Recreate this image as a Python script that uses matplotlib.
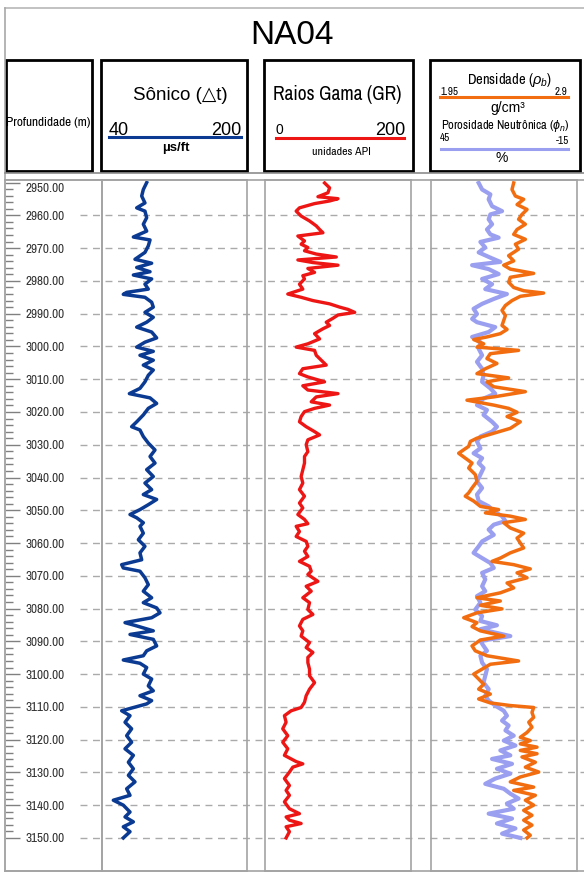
import numpy as np
import matplotlib.pyplot as plt
from matplotlib.patches import Rectangle
from matplotlib.lines import Line2D
from matplotlib.ticker import FixedLocator, FormatStrFormatter

plt.rcParams['font.family'] = ['Liberation Sans', 'DejaVu Sans']
plt.rcParams['mathtext.fontset'] = 'custom'
plt.rcParams['mathtext.rm'] = 'Archivo Narrow'
plt.rcParams['mathtext.it'] = 'Liberation Sans:italic'
narrow = ['Archivo Narrow', 'Liberation Sans', 'DejaVu Sans']

well_name = "NA04"

# Sonico (us/ft)
sonic_depth = [2950.0, 2952.1, 2954.1, 2956.2, 2957.7, 2958.7, 2960.7, 2962.7, 2964.8, 2966.6, 2967.5,
               2969.3, 2971.3, 2973.4, 2974.6, 2975.9, 2977.2, 2978.2, 2979.4, 2981.0, 2982.5, 2983.5,
               2984.1, 2985.0, 2986.5, 2988.0, 2989.6, 2991.1, 2992.6, 2994.1, 2995.6, 2997.4, 2998.7,
               3000.2, 3001.5, 3002.7, 3004.2, 3005.7, 3007.2, 3008.8, 3010.8, 3012.8, 3014.4, 3015.7,
               3017.4, 3018.9, 3020.9, 3023.0, 3024.5, 3025.5, 3027.5, 3029.5, 3031.6, 3033.6, 3035.6,
               3037.6, 3039.7, 3041.7, 3043.7, 3045.2, 3046.7, 3048.3, 3049.8, 3051.3, 3052.3, 3053.8,
               3054.9, 3057.0, 3059.0, 3061.0, 3063.0, 3065.1, 3066.6, 3067.6, 3068.6, 3070.6, 3072.7,
               3074.7, 3076.7, 3078.2, 3079.8, 3081.3, 3082.8, 3084.3, 3085.3, 3086.8, 3087.9, 3089.4,
               3091.4, 3092.9, 3094.4, 3095.7, 3096.7, 3098.0, 3100.0, 3101.5, 3103.6, 3105.1, 3106.6,
               3108.1, 3109.1, 3110.5, 3111.2, 3112.7, 3114.7, 3116.7, 3118.8, 3120.8, 3122.8, 3124.8,
               3126.9, 3128.9, 3130.9, 3132.9, 3135.0, 3137.0, 3138.5, 3140.0, 3142.1, 3143.6, 3145.1,
               3146.6, 3148.1, 3150.0]
sonic_dt = [89.3, 85.6, 83.8, 87.4, 78.3, 87.4, 89.3, 85.6, 89.3, 74.6, 93.0,
            91.1, 87.4, 76.4, 94.8, 78.3, 93.0, 74.6, 94.8, 87.4, 91.1, 67.2,
            63.5, 87.4, 94.8, 96.6, 87.4, 96.6, 89.3, 78.3, 94.8, 100.3, 87.4,
            78.3, 96.6, 81.9, 96.6, 85.6, 96.6, 91.1, 87.4, 81.9, 70.2, 93.0,
            100.3, 91.1, 85.6, 78.3, 72.7, 81.9, 85.6, 91.1, 98.5, 93.0, 98.5,
            89.3, 96.6, 87.4, 94.8, 85.6, 100.3, 91.1, 81.9, 70.9, 78.3, 85.6,
            81.9, 85.6, 80.1, 87.4, 81.9, 83.8, 61.7, 63.5, 81.9, 87.4, 91.1,
            85.6, 94.8, 85.6, 100.3, 104.0, 94.8, 65.4, 78.3, 96.6, 70.9, 96.6,
            100.3, 89.3, 85.6, 63.5, 81.9, 89.3, 85.6, 94.8, 91.1, 96.6, 81.9,
            94.8, 89.3, 70.9, 61.7, 70.9, 65.4, 72.7, 67.2, 72.7, 65.4, 74.6,
            69.1, 74.6, 69.1, 76.4, 67.2, 70.9, 52.5, 63.5, 70.9, 65.4, 74.6,
            63.5, 70.9, 63.5]

# Raios gama (API)
gr_depth = [2950.1, 2951.6, 2953.1, 2954.3, 2954.9, 2955.6, 2956.4, 2957.7, 2958.7, 2960.2, 2961.7,
            2963.2, 2964.3, 2965.3, 2966.3, 2967.8, 2968.8, 2969.8, 2970.8, 2971.8, 2972.7, 2973.6,
            2974.4, 2975.2, 2976.2, 2977.4, 2978.4, 2979.4, 2981.0, 2982.5, 2984.0, 2985.0, 2986.0,
            2987.0, 2988.0, 2988.7, 2989.6, 2990.4, 2991.4, 2992.6, 2993.6, 2994.6, 2996.1, 2997.7,
            2999.2, 3000.2, 3001.2, 3002.7, 3004.2, 3005.7, 3006.8, 3008.3, 3009.3, 3010.8, 3012.0,
            3013.3, 3014.4, 3015.4, 3016.9, 3017.9, 3018.9, 3019.9, 3021.4, 3023.0, 3024.5, 3026.0,
            3027.0, 3028.5, 3030.0, 3032.1, 3033.6, 3035.6, 3037.6, 3039.7, 3041.7, 3043.7, 3045.7,
            3047.8, 3049.3, 3051.3, 3052.8, 3054.1,
            3054.9, 3056.5, 3058.0, 3059.5, 3061.0, 3062.5, 3064.1, 3065.6, 3067.1, 3068.6, 3069.6,
            3071.7, 3073.2, 3074.7, 3076.7, 3078.2, 3080.3, 3081.8, 3083.3, 3085.3, 3086.8, 3088.4,
            3090.4, 3091.9, 3093.4, 3094.9, 3096.5, 3098.5, 3100.5, 3102.6, 3104.6, 3106.6, 3108.6,
            3110.2, 3111.2, 3112.7, 3114.7, 3116.7, 3118.8, 3120.8, 3122.8, 3124.8, 3126.7, 3127.4,
            3128.4, 3129.9, 3131.9, 3134.0, 3135.5, 3137.0, 3139.0, 3141.1, 3142.6, 3143.6, 3144.6,
            3145.6, 3146.6, 3148.1, 3150.0]
gr_api = [81.6, 88.5, 86.2, 72.5, 100.0, 88.5, 67.9, 47.2, 42.7, 49.5, 61.0,
          70.2, 74.8, 79.4, 45.0, 54.1, 49.5, 58.7, 54.1, 70.2, 97.7, 45.0,
          65.6, 100.0, 58.7, 67.9, 51.8, 54.1, 47.2, 51.8, 31.2, 49.5, 65.6,
          88.5, 102.3, 113.8, 122.9, 100.0, 93.1, 83.9, 88.5, 79.4, 67.9, 74.8,
          58.7, 42.7, 67.9, 70.2, 77.1, 83.9, 51.8, 47.2, 58.7, 81.6, 51.8,
          58.7, 100.0, 70.2, 63.3, 88.5, 67.9, 54.1, 49.5, 47.2, 56.4, 67.9,
          74.8, 58.7, 56.4, 58.7, 54.1, 54.1, 51.8, 49.5, 51.8, 47.2, 54.1,
          47.2, 51.8, 45.0, 54.1, 58.7,
          42.7, 47.2, 42.7, 56.4, 58.7, 54.1, 58.7, 47.2, 61.0, 63.3, 58.7,
          72.5, 56.4, 63.3, 51.8, 61.0, 58.7, 65.6, 51.8, 47.2, 51.8, 49.5,
          61.0, 56.4, 65.6, 58.7, 58.7, 61.0, 61.0, 67.9, 61.0, 56.4, 54.1,
          49.5, 35.8, 26.6, 28.9, 24.3, 31.2, 24.3, 31.2, 26.6, 42.7, 51.8,
          38.1, 33.5, 26.6, 33.5, 28.9, 33.5, 26.6, 33.5, 47.2, 28.9, 33.5,
          49.5, 28.9, 33.5, 28.9]

# Densidade (g/cm3)
rhob_depth = [2950.1, 2952.1, 2954.1, 2955.1, 2956.7, 2958.2, 2959.7, 2961.2, 2962.7, 2964.3, 2965.8,
              2967.3, 2968.8, 2970.3, 2972.3, 2973.9, 2975.2, 2976.4, 2977.7, 2978.9, 2980.4, 2982.0,
              2983.0, 2983.7, 2984.7, 2986.0, 2987.5, 2989.0, 2990.6, 2992.1, 2993.6, 2994.8, 2996.1,
              2997.1, 2997.9, 2999.2, 3000.2, 3001.2, 3002.2, 3003.7, 3005.2, 3006.8, 3008.3, 3009.6,
              3010.8, 3012.3, 3013.8, 3015.4, 3016.4, 3017.9, 3018.9, 3020.1, 3021.4, 3023.0, 3025.0,
              3026.8, 3028.0, 3029.0, 3030.5, 3032.6, 3034.1, 3035.6, 3037.1, 3039.1, 3041.2, 3043.2,
              3044.7, 3045.7, 3047.2, 3048.8, 3049.8, 3050.8, 3051.8, 3052.8, 3053.8,
              3055.4, 3057.0, 3058.5, 3060.0, 3061.5, 3063.0, 3064.6, 3065.6, 3066.6, 3067.9, 3069.1,
              3070.6, 3072.2, 3073.7, 3075.2, 3076.7, 3077.7, 3079.0, 3080.1, 3081.3, 3082.8, 3084.3,
              3085.5, 3086.8, 3088.4, 3089.6, 3091.4, 3092.9, 3094.4, 3096.0, 3097.0, 3098.5, 3100.0,
              3101.5, 3103.1, 3104.6, 3106.1, 3107.6, 3108.8, 3109.6, 3110.2, 3111.7, 3113.2, 3114.7,
              3116.2, 3117.8, 3119.3, 3120.3, 3121.3, 3122.3, 3123.3, 3124.3, 3125.3, 3126.9, 3128.4,
              3129.9, 3131.4, 3132.9, 3134.5, 3135.5, 3137.0, 3138.5, 3140.0, 3141.6, 3143.1, 3144.6,
              3146.1, 3147.6, 3149.2, 3150.0]
rhob = [2.488, 2.477, 2.499, 2.553, 2.510, 2.575, 2.542, 2.520, 2.564, 2.510, 2.488,
        2.564, 2.499, 2.520, 2.455, 2.488, 2.423, 2.466, 2.618, 2.466, 2.455, 2.488,
        2.553, 2.683, 2.531, 2.477, 2.434, 2.412, 2.434, 2.423, 2.412, 2.445, 2.401,
        2.314, 2.228, 2.293, 2.249, 2.520, 2.336, 2.314, 2.379, 2.304, 2.249, 2.455,
        2.314, 2.358, 2.564, 2.358, 2.184, 2.358, 2.455, 2.510, 2.445, 2.531, 2.466,
        2.336, 2.249, 2.206, 2.195, 2.130, 2.173, 2.217, 2.195, 2.238, 2.249, 2.217,
        2.195, 2.173, 2.228, 2.271, 2.390, 2.304, 2.466, 2.564, 2.423,
        2.466, 2.553, 2.510, 2.531, 2.553, 2.466, 2.401, 2.347, 2.488, 2.596, 2.510,
        2.575, 2.445, 2.488, 2.401, 2.249, 2.401, 2.271, 2.412, 2.249, 2.163, 2.249,
        2.217, 2.271, 2.423, 2.271, 2.217, 2.238, 2.314, 2.520, 2.336, 2.282, 2.228,
        2.260, 2.293, 2.260, 2.336, 2.260, 2.336, 2.466, 2.618, 2.607, 2.618, 2.586,
        2.607, 2.575, 2.531, 2.596, 2.531, 2.640, 2.531, 2.640, 2.542, 2.629, 2.564,
        2.651, 2.531, 2.466, 2.618, 2.488, 2.629, 2.564, 2.618, 2.553, 2.607, 2.553,
        2.607, 2.553, 2.596, 2.575]

# Porosidade neutronica (%)
nphi_depth = [2950.1, 2952.1, 2953.6, 2955.1, 2957.2, 2958.7, 2959.7, 2961.2, 2962.7, 2964.3, 2965.8,
              2966.8, 2968.1, 2969.8, 2971.3, 2972.9, 2974.2, 2975.2, 2976.4, 2977.9, 2979.4, 2981.0,
              2982.5, 2984.0, 2985.5, 2987.0, 2988.5, 2990.1, 2991.6, 2992.6, 2994.1, 2995.6, 2997.1,
              2998.7, 3000.7, 3002.7, 3004.7, 3006.8, 3008.8, 3010.8, 3012.8, 3014.4, 3015.9, 3017.9,
              3019.4, 3020.9, 3023.0, 3024.5, 3026.0, 3027.5, 3029.0, 3031.1, 3032.6, 3034.1, 3035.6,
              3037.1, 3039.1, 3041.2, 3043.2, 3045.2, 3047.2, 3048.8, 3050.3, 3051.8, 3053.3,
              3054.4, 3055.9, 3057.5, 3059.5, 3061.0, 3063.0, 3064.6, 3066.1, 3067.6, 3069.1, 3071.1,
              3073.2, 3074.7, 3076.2, 3078.2, 3080.3, 3082.3, 3083.8, 3085.1, 3086.3, 3088.4, 3089.9,
              3091.4, 3092.9, 3094.4, 3096.5, 3098.5, 3100.5, 3102.6, 3104.6, 3106.6, 3108.1, 3109.6,
              3111.2, 3112.7, 3114.2, 3115.7, 3117.2, 3118.8, 3120.3, 3121.8, 3123.3, 3124.8, 3125.9,
              3127.4, 3128.9, 3130.4, 3131.9, 3133.5, 3135.0, 3136.5, 3138.0, 3139.5, 3141.1, 3142.6,
              3144.1, 3145.6, 3147.1, 3148.7, 3150.0]
nphi = [25.4, 24.0, 20.6, 21.3, 19.9, 15.8, 20.6, 21.3, 19.9, 22.0, 20.6,
        17.2, 24.7, 22.7, 25.4, 20.6, 16.5, 28.1, 21.3, 17.2, 24.0, 19.9,
        22.7, 13.8, 19.2, 24.0, 27.5, 26.1, 28.1, 26.1, 18.6, 21.3, 28.1,
        24.7, 25.4, 24.0, 26.1, 24.0, 23.4, 24.0, 20.6, 18.6, 23.4, 26.1,
        22.0, 23.4, 19.9, 17.9, 19.9, 24.7, 26.1, 24.7, 27.5, 24.0, 25.4,
        23.4, 24.7, 26.1, 24.0, 26.1, 25.4, 21.3, 19.2, 15.8, 14.4,
        19.2, 21.3, 19.2, 24.0, 25.4, 27.5, 24.0, 20.6, 19.2, 24.0, 22.7,
        24.0, 22.7, 26.1, 24.7, 26.8, 24.0, 24.7, 17.9, 24.7, 12.4, 24.7,
        23.4, 22.0, 24.7, 24.0, 22.0, 22.7, 23.4, 21.3, 22.7, 21.3, 18.6,
        15.1, 13.8, 15.8, 13.1, 14.4, 11.0, 15.1, 10.3, 16.5, 12.4, 19.9,
        11.7, 17.9, 12.4, 18.6, 22.7, 15.1, 12.4, 9.0, 13.8, 11.0, 21.3,
        11.7, 17.9, 10.3, 15.8, 8.3]

depth_ticks = list(range(2950, 3151, 10))
sonic_range = (40, 200)
gr_range = (0, 200)
rhob_range = (1.95, 2.9)
nphi_range = (45, -15)

sonic_col = '#0b3a92'
gr_col = '#ee1515'
rhob_col = '#f26d10'
nphi_col = '#9b9ff0'
edge_col = '#a3a3a3'
grid_col = '#aaaaaa'

W, H = 584, 873
fig = plt.figure(figsize=(W / 100, H / 100), dpi=100)


def fx(x):
    return x / W


def fy(y):
    return 1 - y / H


def rect(x0, x1, y0=180, y1=871):
    return [fx(x0), fy(y1), (x1 - x0) / W, (y1 - y0) / H]


depth_top, depth_bot = 2949.2, 3160.1

# dashed depth grid, drawn behind every track
gax = fig.add_axes(rect(80, 584))
gax.set_xlim(0, 1)
gax.set_ylim(depth_bot, depth_top)
gax.axis('off')
for d in depth_ticks[1:]:
    gax.axhline(d, color=grid_col, lw=1.0, dashes=(5, 4))


def track(x0, x1):
    ax = fig.add_axes(rect(x0, x1))
    ax.set_facecolor('none')
    ax.set_ylim(depth_bot, depth_top)
    for s in ax.spines.values():
        s.set_color(edge_col)
        s.set_linewidth(1.2)
    ax.tick_params(left=False, bottom=False, labelleft=False, labelbottom=False)
    return ax


# profundidade
dax = track(5, 102)
dax.set_xlim(0, 1)
dax.yaxis.set_major_locator(FixedLocator(depth_ticks))
dax.yaxis.set_minor_locator(FixedLocator(list(range(2950, 3151, 2))))
dax.yaxis.set_major_formatter(FormatStrFormatter('%.2f'))
dax.tick_params(axis='y', which='major', left=True, labelleft=True, direction='in',
                length=11, width=1, color='#808080', pad=-43, labelsize=9.5, labelcolor='#333333')
dax.tick_params(axis='y', which='minor', left=True, direction='in', length=6, width=1, color='#808080')
for lab in dax.get_yticklabels():
    lab.set_fontfamily(narrow)
dax.get_yticklabels()[0].set_va('top')

# sonico
sax = track(102, 247)
sax.set_xlim(*sonic_range)
sax.plot(sonic_dt, sonic_depth, color=sonic_col, lw=2.5, solid_joinstyle='round')

# raios gama
gax2 = track(265, 411)
gax2.set_xlim(*gr_range)
gax2.plot(gr_api, gr_depth, color=gr_col, lw=2.4, solid_joinstyle='round')

# densidade / neutrao
nax = track(431, 577)
nax.set_xlim(*nphi_range)
nax.plot(nphi, nphi_depth, color=nphi_col, lw=3.0, solid_joinstyle='round')
rax = nax.twiny()
rax.set_xlim(*rhob_range)
rax.set_ylim(depth_bot, depth_top)
rax.axis('off')
rax.plot(rhob, rhob_depth, color=rhob_col, lw=2.5, solid_joinstyle='round')
nax.tick_params(bottom=False, labelbottom=False, top=False, labeltop=False)


# frame lines
def fline(x0, y0, x1, y1, color, lw):
    fig.add_artist(Line2D([fx(x0), fx(x1)], [fy(y0), fy(y1)], color=color, lw=lw,
                          transform=fig.transFigure))


fline(5, 8, 584, 8, '#b8b8b8', 1.2)
fline(5, 8, 5, 871, '#a8a8a8', 1.2)
fline(5, 173, 584, 173, '#8c8c8c', 1.2)
fline(5, 180, 584, 180, edge_col, 1.2)
fline(5, 871, 584, 871, edge_col, 1.2)

# header boxes
for x0, x1 in [(6, 92), (101, 247), (264, 413), (430, 580)]:
    fig.add_artist(Rectangle((fx(x0), fy(171)), (x1 - x0) / W, (171 - 60) / H, fill=False,
                             ec='black', lw=2.0, transform=fig.transFigure))

fig.text(fx(292), fy(35), well_name, fontsize=24, ha='center', va='center')
fig.text(fx(48), fy(123), 'Profundidade (m)', fontsize=9.5, family=narrow, ha='center', va='center')

# sonico header
fig.text(fx(180), fy(95), 'Sônico (△t)', fontsize=13.5, family=['Liberation Sans', 'DejaVu Sans'],
         ha='center', va='center')
fig.text(fx(109), fy(135), str(sonic_range[0]), fontsize=13, ha='left', va='baseline')
fig.text(fx(241), fy(135), str(sonic_range[1]), fontsize=13, ha='right', va='baseline')
fline(109, 137, 241, 137, sonic_col, 2.2)
fig.text(fx(176), fy(148), 'µs/ft', fontsize=9.5, fontweight='bold', ha='center', va='center')

# raios gama header
fig.text(fx(337), fy(95), 'Raios Gama (GR)', fontsize=14, family=narrow, ha='center', va='center')
fig.text(fx(275), fy(134), str(gr_range[0]), fontsize=10, ha='left', va='baseline')
fig.text(fx(405), fy(135), str(gr_range[1]), fontsize=13, ha='right', va='baseline')
fline(276, 138, 404, 138, gr_col, 2.2)
fig.text(fx(341), fy(152), 'unidades API', fontsize=8.5, family=narrow, ha='center', va='center')

# densidade / neutrao header
fig.text(fx(509), fy(80), r'Densidade ($\rho_b$)', fontsize=10.5, family=narrow, ha='center', va='center')
fig.text(fx(440), fy(95), f'{rhob_range[0]:.2f}', fontsize=8, family=narrow, ha='left', va='baseline')
fig.text(fx(567), fy(95), f'{rhob_range[1]:.1f}', fontsize=8, family=narrow, ha='right', va='baseline')
fline(440, 97, 568, 97, rhob_col, 2.2)
fig.text(fx(508), fy(108), 'g/cm³', fontsize=10, ha='center', va='center')
fig.text(fx(505), fy(126), r'Porosidade Neutrônica ($\phi_n$)', fontsize=9, family=narrow,
         ha='center', va='center')
fig.text(fx(440), fy(141), str(nphi_range[0]), fontsize=8, family=narrow, ha='left', va='baseline')
fig.text(fx(569), fy(144), str(nphi_range[1]), fontsize=8, family=narrow, ha='right', va='baseline')
fline(441, 149, 568, 149, nphi_col, 2.2)
fig.text(fx(502), fy(158), '%', fontsize=10, ha='center', va='center')

fig.savefig('out.png', dpi=100)
